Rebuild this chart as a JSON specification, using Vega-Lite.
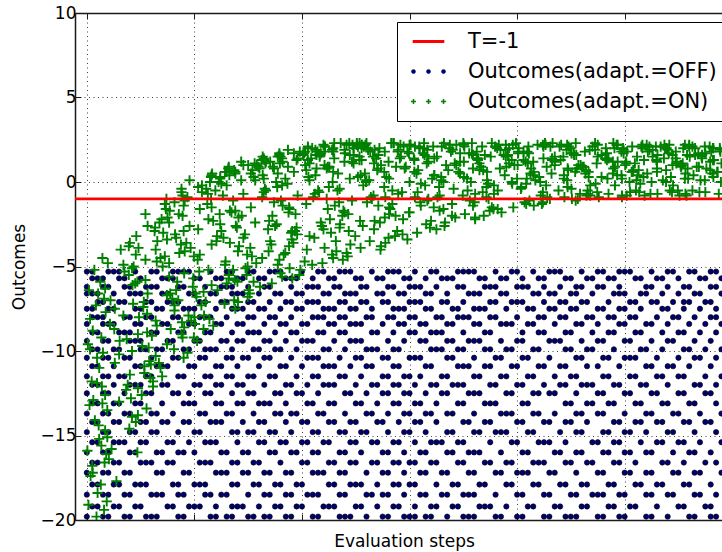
{
"$schema":"https://vega.github.io/schema/vega-lite/v6.json",
"width":647,"height":507,
"autosize":{"type":"none"},
"padding":{"left":75,"top":13,"right":0,"bottom":32},
"background":"white",
"config":{
"view":{"stroke":null},
"font":"DejaVu Sans",
"axis":{"domainColor":"#1a1a1a","domainWidth":1.5,"tickColor":"#1a1a1a","tickSize":-6,"tickWidth":1,"gridColor":"#000000","gridDash":[1,3.5],"gridOpacity":0.75,"gridWidth":1,"labelFont":"DejaVu Sans","labelFontSize":17,"labelColor":"#000000","titleFont":"DejaVu Sans","titleFontSize":17,"titleFontWeight":"normal","titleColor":"#000000"}
},
"datasets":{
"off":[
{"x":0,"y":-5.3},{"x":1,"y":-5.3},{"x":4,"y":-5.3},{"x":5,"y":-5.3},{"x":6,"y":-5.3},{"x":9,"y":-5.3},{"x":12,"y":-5.3},{"x":13,"y":-5.3},{"x":16,"y":-5.3},{"x":17,"y":-5.3},{"x":18,"y":-5.3},{"x":19,"y":-5.3},{"x":23,"y":-5.3},{"x":26,"y":-5.3},{"x":27,"y":-5.3},{"x":30,"y":-5.3},{"x":31,"y":-5.3},{"x":34,"y":-5.3},{"x":35,"y":-5.3},{"x":36,"y":-5.3},{"x":40,"y":-5.3},{"x":43,"y":-5.3},{"x":44,"y":-5.3},{"x":47,"y":-5.3},{"x":48,"y":-5.3},{"x":49,"y":-5.3},{"x":53,"y":-5.3},{"x":56,"y":-5.3},{"x":57,"y":-5.3},{"x":58,"y":-5.3},{"x":61,"y":-5.3},{"x":64,"y":-5.3},{"x":65,"y":-5.3},{"x":69,"y":-5.3},{"x":70,"y":-5.3},{"x":71,"y":-5.3},{"x":72,"y":-5.3},{"x":76,"y":-5.3},{"x":79,"y":-5.3},{"x":80,"y":-5.3},{"x":83,"y":-5.3},{"x":86,"y":-5.3},{"x":87,"y":-5.3},{"x":88,"y":-5.3},{"x":92,"y":-5.3},{"x":95,"y":-5.3},{"x":96,"y":-5.3},{"x":99,"y":-5.3},{"x":100,"y":-5.3},{"x":101,"y":-5.3},{"x":105,"y":-5.3},{"x":108,"y":-5.3},{"x":109,"y":-5.3},{"x":112,"y":-5.3},{"x":113,"y":-5.3},{"x":116,"y":-5.3},{"x":117,"y":-5.3},
{"x":1,"y":-5.7},{"x":2,"y":-5.7},{"x":3,"y":-5.7},{"x":6,"y":-5.7},{"x":7,"y":-5.7},{"x":10,"y":-5.7},{"x":14,"y":-5.7},{"x":15,"y":-5.7},{"x":16,"y":-5.7},{"x":20,"y":-5.7},{"x":21,"y":-5.7},{"x":24,"y":-5.7},{"x":25,"y":-5.7},{"x":28,"y":-5.7},{"x":29,"y":-5.7},{"x":32,"y":-5.7},{"x":33,"y":-5.7},{"x":37,"y":-5.7},{"x":38,"y":-5.7},{"x":39,"y":-5.7},{"x":42,"y":-5.7},{"x":45,"y":-5.7},{"x":46,"y":-5.7},{"x":50,"y":-5.7},{"x":51,"y":-5.7},{"x":54,"y":-5.7},{"x":55,"y":-5.7},{"x":59,"y":-5.7},{"x":60,"y":-5.7},{"x":63,"y":-5.7},{"x":66,"y":-5.7},{"x":67,"y":-5.7},{"x":68,"y":-5.7},{"x":73,"y":-5.7},{"x":74,"y":-5.7},{"x":77,"y":-5.7},{"x":78,"y":-5.7},{"x":81,"y":-5.7},{"x":84,"y":-5.7},{"x":85,"y":-5.7},{"x":89,"y":-5.7},{"x":90,"y":-5.7},{"x":93,"y":-5.7},{"x":94,"y":-5.7},{"x":97,"y":-5.7},{"x":98,"y":-5.7},{"x":102,"y":-5.7},{"x":103,"y":-5.7},{"x":106,"y":-5.7},{"x":107,"y":-5.7},{"x":110,"y":-5.7},{"x":114,"y":-5.7},{"x":115,"y":-5.7},{"x":118,"y":-5.7},
{"x":0,"y":-6.2},{"x":3,"y":-6.2},{"x":4,"y":-6.2},{"x":7,"y":-6.2},{"x":8,"y":-6.2},{"x":11,"y":-6.2},{"x":12,"y":-6.2},{"x":13,"y":-6.2},{"x":17,"y":-6.2},{"x":18,"y":-6.2},{"x":22,"y":-6.2},{"x":25,"y":-6.2},{"x":26,"y":-6.2},{"x":27,"y":-6.2},{"x":30,"y":-6.2},{"x":33,"y":-6.2},{"x":34,"y":-6.2},{"x":38,"y":-6.2},{"x":41,"y":-6.2},{"x":42,"y":-6.2},{"x":43,"y":-6.2},{"x":46,"y":-6.2},{"x":47,"y":-6.2},{"x":51,"y":-6.2},{"x":52,"y":-6.2},{"x":56,"y":-6.2},{"x":57,"y":-6.2},{"x":60,"y":-6.2},{"x":61,"y":-6.2},{"x":62,"y":-6.2},{"x":65,"y":-6.2},{"x":69,"y":-6.2},{"x":70,"y":-6.2},{"x":74,"y":-6.2},{"x":75,"y":-6.2},{"x":76,"y":-6.2},{"x":80,"y":-6.2},{"x":81,"y":-6.2},{"x":82,"y":-6.2},{"x":85,"y":-6.2},{"x":88,"y":-6.2},{"x":91,"y":-6.2},{"x":92,"y":-6.2},{"x":95,"y":-6.2},{"x":96,"y":-6.2},{"x":99,"y":-6.2},{"x":104,"y":-6.2},{"x":105,"y":-6.2},{"x":108,"y":-6.2},{"x":111,"y":-6.2},{"x":112,"y":-6.2},{"x":116,"y":-6.2},{"x":117,"y":-6.2},
{"x":0,"y":-6.6},{"x":1,"y":-6.6},{"x":2,"y":-6.6},{"x":5,"y":-6.6},{"x":8,"y":-6.6},{"x":9,"y":-6.6},{"x":10,"y":-6.6},{"x":14,"y":-6.6},{"x":15,"y":-6.6},{"x":19,"y":-6.6},{"x":20,"y":-6.6},{"x":23,"y":-6.6},{"x":24,"y":-6.6},{"x":27,"y":-6.6},{"x":28,"y":-6.6},{"x":29,"y":-6.6},{"x":32,"y":-6.6},{"x":35,"y":-6.6},{"x":36,"y":-6.6},{"x":39,"y":-6.6},{"x":40,"y":-6.6},{"x":44,"y":-6.6},{"x":45,"y":-6.6},{"x":48,"y":-6.6},{"x":49,"y":-6.6},{"x":50,"y":-6.6},{"x":54,"y":-6.6},{"x":55,"y":-6.6},{"x":58,"y":-6.6},{"x":59,"y":-6.6},{"x":63,"y":-6.6},{"x":64,"y":-6.6},{"x":67,"y":-6.6},{"x":71,"y":-6.6},{"x":72,"y":-6.6},{"x":73,"y":-6.6},{"x":77,"y":-6.6},{"x":78,"y":-6.6},{"x":83,"y":-6.6},{"x":84,"y":-6.6},{"x":86,"y":-6.6},{"x":87,"y":-6.6},{"x":90,"y":-6.6},{"x":91,"y":-6.6},{"x":94,"y":-6.6},{"x":98,"y":-6.6},{"x":99,"y":-6.6},{"x":100,"y":-6.6},{"x":103,"y":-6.6},{"x":104,"y":-6.6},{"x":107,"y":-6.6},{"x":110,"y":-6.6},{"x":113,"y":-6.6},{"x":114,"y":-6.6},{"x":118,"y":-6.6},
{"x":2,"y":-7.1},{"x":3,"y":-7.1},{"x":6,"y":-7.1},{"x":7,"y":-7.1},{"x":11,"y":-7.1},{"x":12,"y":-7.1},{"x":15,"y":-7.1},{"x":16,"y":-7.1},{"x":17,"y":-7.1},{"x":21,"y":-7.1},{"x":22,"y":-7.1},{"x":25,"y":-7.1},{"x":26,"y":-7.1},{"x":30,"y":-7.1},{"x":31,"y":-7.1},{"x":34,"y":-7.1},{"x":37,"y":-7.1},{"x":38,"y":-7.1},{"x":41,"y":-7.1},{"x":42,"y":-7.1},{"x":43,"y":-7.1},{"x":47,"y":-7.1},{"x":48,"y":-7.1},{"x":51,"y":-7.1},{"x":52,"y":-7.1},{"x":55,"y":-7.1},{"x":56,"y":-7.1},{"x":60,"y":-7.1},{"x":61,"y":-7.1},{"x":62,"y":-7.1},{"x":66,"y":-7.1},{"x":67,"y":-7.1},{"x":70,"y":-7.1},{"x":75,"y":-7.1},{"x":76,"y":-7.1},{"x":79,"y":-7.1},{"x":80,"y":-7.1},{"x":81,"y":-7.1},{"x":85,"y":-7.1},{"x":88,"y":-7.1},{"x":89,"y":-7.1},{"x":92,"y":-7.1},{"x":93,"y":-7.1},{"x":97,"y":-7.1},{"x":101,"y":-7.1},{"x":102,"y":-7.1},{"x":105,"y":-7.1},{"x":106,"y":-7.1},{"x":109,"y":-7.1},{"x":111,"y":-7.1},{"x":112,"y":-7.1},{"x":115,"y":-7.1},{"x":116,"y":-7.1},
{"x":0,"y":-7.5},{"x":1,"y":-7.5},{"x":4,"y":-7.5},{"x":5,"y":-7.5},{"x":9,"y":-7.5},{"x":10,"y":-7.5},{"x":13,"y":-7.5},{"x":14,"y":-7.5},{"x":18,"y":-7.5},{"x":19,"y":-7.5},{"x":20,"y":-7.5},{"x":24,"y":-7.5},{"x":27,"y":-7.5},{"x":28,"y":-7.5},{"x":29,"y":-7.5},{"x":32,"y":-7.5},{"x":33,"y":-7.5},{"x":36,"y":-7.5},{"x":39,"y":-7.5},{"x":40,"y":-7.5},{"x":44,"y":-7.5},{"x":45,"y":-7.5},{"x":46,"y":-7.5},{"x":49,"y":-7.5},{"x":50,"y":-7.5},{"x":53,"y":-7.5},{"x":57,"y":-7.5},{"x":58,"y":-7.5},{"x":59,"y":-7.5},{"x":63,"y":-7.5},{"x":64,"y":-7.5},{"x":68,"y":-7.5},{"x":69,"y":-7.5},{"x":72,"y":-7.5},{"x":73,"y":-7.5},{"x":74,"y":-7.5},{"x":78,"y":-7.5},{"x":82,"y":-7.5},{"x":83,"y":-7.5},{"x":86,"y":-7.5},{"x":87,"y":-7.5},{"x":90,"y":-7.5},{"x":91,"y":-7.5},{"x":95,"y":-7.5},{"x":96,"y":-7.5},{"x":99,"y":-7.5},{"x":100,"y":-7.5},{"x":103,"y":-7.5},{"x":107,"y":-7.5},{"x":108,"y":-7.5},{"x":111,"y":-7.5},{"x":114,"y":-7.5},{"x":117,"y":-7.5},
{"x":1,"y":-8},{"x":2,"y":-8},{"x":3,"y":-8},{"x":7,"y":-8},{"x":8,"y":-8},{"x":11,"y":-8},{"x":12,"y":-8},{"x":16,"y":-8},{"x":17,"y":-8},{"x":21,"y":-8},{"x":22,"y":-8},{"x":23,"y":-8},{"x":26,"y":-8},{"x":30,"y":-8},{"x":31,"y":-8},{"x":34,"y":-8},{"x":35,"y":-8},{"x":38,"y":-8},{"x":42,"y":-8},{"x":43,"y":-8},{"x":44,"y":-8},{"x":47,"y":-8},{"x":48,"y":-8},{"x":52,"y":-8},{"x":53,"y":-8},{"x":56,"y":-8},{"x":57,"y":-8},{"x":60,"y":-8},{"x":61,"y":-8},{"x":65,"y":-8},{"x":66,"y":-8},{"x":69,"y":-8},{"x":70,"y":-8},{"x":71,"y":-8},{"x":75,"y":-8},{"x":76,"y":-8},{"x":80,"y":-8},{"x":84,"y":-8},{"x":85,"y":-8},{"x":88,"y":-8},{"x":89,"y":-8},{"x":93,"y":-8},{"x":94,"y":-8},{"x":97,"y":-8},{"x":98,"y":-8},{"x":101,"y":-8},{"x":102,"y":-8},{"x":106,"y":-8},{"x":109,"y":-8},{"x":110,"y":-8},{"x":113,"y":-8},{"x":116,"y":-8},{"x":117,"y":-8},
{"x":0,"y":-8.4},{"x":3,"y":-8.4},{"x":4,"y":-8.4},{"x":5,"y":-8.4},{"x":9,"y":-8.4},{"x":10,"y":-8.4},{"x":14,"y":-8.4},{"x":15,"y":-8.4},{"x":19,"y":-8.4},{"x":20,"y":-8.4},{"x":24,"y":-8.4},{"x":25,"y":-8.4},{"x":28,"y":-8.4},{"x":29,"y":-8.4},{"x":33,"y":-8.4},{"x":36,"y":-8.4},{"x":37,"y":-8.4},{"x":40,"y":-8.4},{"x":41,"y":-8.4},{"x":45,"y":-8.4},{"x":46,"y":-8.4},{"x":49,"y":-8.4},{"x":50,"y":-8.4},{"x":51,"y":-8.4},{"x":55,"y":-8.4},{"x":58,"y":-8.4},{"x":59,"y":-8.4},{"x":62,"y":-8.4},{"x":63,"y":-8.4},{"x":67,"y":-8.4},{"x":68,"y":-8.4},{"x":72,"y":-8.4},{"x":73,"y":-8.4},{"x":77,"y":-8.4},{"x":78,"y":-8.4},{"x":79,"y":-8.4},{"x":82,"y":-8.4},{"x":83,"y":-8.4},{"x":87,"y":-8.4},{"x":91,"y":-8.4},{"x":92,"y":-8.4},{"x":95,"y":-8.4},{"x":99,"y":-8.4},{"x":100,"y":-8.4},{"x":104,"y":-8.4},{"x":105,"y":-8.4},{"x":108,"y":-8.4},{"x":112,"y":-8.4},{"x":115,"y":-8.4},{"x":118,"y":-8.4},
{"x":1,"y":-8.9},{"x":2,"y":-8.9},{"x":6,"y":-8.9},{"x":7,"y":-8.9},{"x":8,"y":-8.9},{"x":12,"y":-8.9},{"x":13,"y":-8.9},{"x":17,"y":-8.9},{"x":18,"y":-8.9},{"x":22,"y":-8.9},{"x":23,"y":-8.9},{"x":27,"y":-8.9},{"x":30,"y":-8.9},{"x":31,"y":-8.9},{"x":32,"y":-8.9},{"x":35,"y":-8.9},{"x":38,"y":-8.9},{"x":39,"y":-8.9},{"x":43,"y":-8.9},{"x":44,"y":-8.9},{"x":47,"y":-8.9},{"x":48,"y":-8.9},{"x":53,"y":-8.9},{"x":54,"y":-8.9},{"x":57,"y":-8.9},{"x":60,"y":-8.9},{"x":61,"y":-8.9},{"x":64,"y":-8.9},{"x":65,"y":-8.9},{"x":66,"y":-8.9},{"x":70,"y":-8.9},{"x":74,"y":-8.9},{"x":75,"y":-8.9},{"x":81,"y":-8.9},{"x":84,"y":-8.9},{"x":85,"y":-8.9},{"x":89,"y":-8.9},{"x":90,"y":-8.9},{"x":94,"y":-8.9},{"x":97,"y":-8.9},{"x":98,"y":-8.9},{"x":102,"y":-8.9},{"x":103,"y":-8.9},{"x":107,"y":-8.9},{"x":110,"y":-8.9},{"x":111,"y":-8.9},{"x":114,"y":-8.9},{"x":117,"y":-8.9},
{"x":0,"y":-9.4},{"x":3,"y":-9.4},{"x":4,"y":-9.4},{"x":8,"y":-9.4},{"x":9,"y":-9.4},{"x":10,"y":-9.4},{"x":15,"y":-9.4},{"x":16,"y":-9.4},{"x":20,"y":-9.4},{"x":21,"y":-9.4},{"x":25,"y":-9.4},{"x":26,"y":-9.4},{"x":28,"y":-9.4},{"x":29,"y":-9.4},{"x":33,"y":-9.4},{"x":34,"y":-9.4},{"x":37,"y":-9.4},{"x":40,"y":-9.4},{"x":41,"y":-9.4},{"x":42,"y":-9.4},{"x":46,"y":-9.4},{"x":49,"y":-9.4},{"x":50,"y":-9.4},{"x":51,"y":-9.4},{"x":56,"y":-9.4},{"x":59,"y":-9.4},{"x":62,"y":-9.4},{"x":63,"y":-9.4},{"x":67,"y":-9.4},{"x":68,"y":-9.4},{"x":71,"y":-9.4},{"x":72,"y":-9.4},{"x":73,"y":-9.4},{"x":77,"y":-9.4},{"x":80,"y":-9.4},{"x":81,"y":-9.4},{"x":86,"y":-9.4},{"x":87,"y":-9.4},{"x":88,"y":-9.4},{"x":92,"y":-9.4},{"x":95,"y":-9.4},{"x":96,"y":-9.4},{"x":100,"y":-9.4},{"x":101,"y":-9.4},{"x":105,"y":-9.4},{"x":108,"y":-9.4},{"x":109,"y":-9.4},{"x":113,"y":-9.4},{"x":116,"y":-9.4},
{"x":1,"y":-9.9},{"x":2,"y":-9.9},{"x":5,"y":-9.9},{"x":6,"y":-9.9},{"x":10,"y":-9.9},{"x":11,"y":-9.9},{"x":13,"y":-9.9},{"x":14,"y":-9.9},{"x":18,"y":-9.9},{"x":19,"y":-9.9},{"x":22,"y":-9.9},{"x":23,"y":-9.9},{"x":24,"y":-9.9},{"x":27,"y":-9.9},{"x":31,"y":-9.9},{"x":32,"y":-9.9},{"x":35,"y":-9.9},{"x":36,"y":-9.9},{"x":39,"y":-9.9},{"x":44,"y":-9.9},{"x":45,"y":-9.9},{"x":48,"y":-9.9},{"x":52,"y":-9.9},{"x":53,"y":-9.9},{"x":54,"y":-9.9},{"x":57,"y":-9.9},{"x":58,"y":-9.9},{"x":64,"y":-9.9},{"x":65,"y":-9.9},{"x":66,"y":-9.9},{"x":69,"y":-9.9},{"x":70,"y":-9.9},{"x":74,"y":-9.9},{"x":75,"y":-9.9},{"x":78,"y":-9.9},{"x":79,"y":-9.9},{"x":83,"y":-9.9},{"x":84,"y":-9.9},{"x":89,"y":-9.9},{"x":90,"y":-9.9},{"x":93,"y":-9.9},{"x":94,"y":-9.9},{"x":98,"y":-9.9},{"x":103,"y":-9.9},{"x":104,"y":-9.9},{"x":107,"y":-9.9},{"x":111,"y":-9.9},{"x":112,"y":-9.9},{"x":115,"y":-9.9},{"x":118,"y":-9.9},
{"x":0,"y":-10.4},{"x":3,"y":-10.4},{"x":4,"y":-10.4},{"x":7,"y":-10.4},{"x":8,"y":-10.4},{"x":12,"y":-10.4},{"x":16,"y":-10.4},{"x":17,"y":-10.4},{"x":21,"y":-10.4},{"x":22,"y":-10.4},{"x":26,"y":-10.4},{"x":27,"y":-10.4},{"x":29,"y":-10.4},{"x":30,"y":-10.4},{"x":33,"y":-10.4},{"x":34,"y":-10.4},{"x":38,"y":-10.4},{"x":41,"y":-10.4},{"x":42,"y":-10.4},{"x":43,"y":-10.4},{"x":47,"y":-10.4},{"x":50,"y":-10.4},{"x":51,"y":-10.4},{"x":55,"y":-10.4},{"x":56,"y":-10.4},{"x":60,"y":-10.4},{"x":61,"y":-10.4},{"x":62,"y":-10.4},{"x":67,"y":-10.4},{"x":68,"y":-10.4},{"x":72,"y":-10.4},{"x":76,"y":-10.4},{"x":77,"y":-10.4},{"x":81,"y":-10.4},{"x":82,"y":-10.4},{"x":86,"y":-10.4},{"x":91,"y":-10.4},{"x":92,"y":-10.4},{"x":96,"y":-10.4},{"x":97,"y":-10.4},{"x":100,"y":-10.4},{"x":101,"y":-10.4},{"x":102,"y":-10.4},{"x":106,"y":-10.4},{"x":110,"y":-10.4},{"x":113,"y":-10.4},{"x":114,"y":-10.4},{"x":117,"y":-10.4},
{"x":1,"y":-10.9},{"x":2,"y":-10.9},{"x":5,"y":-10.9},{"x":9,"y":-10.9},{"x":10,"y":-10.9},{"x":13,"y":-10.9},{"x":14,"y":-10.9},{"x":15,"y":-10.9},{"x":19,"y":-10.9},{"x":20,"y":-10.9},{"x":24,"y":-10.9},{"x":25,"y":-10.9},{"x":28,"y":-10.9},{"x":32,"y":-10.9},{"x":36,"y":-10.9},{"x":37,"y":-10.9},{"x":40,"y":-10.9},{"x":44,"y":-10.9},{"x":45,"y":-10.9},{"x":46,"y":-10.9},{"x":49,"y":-10.9},{"x":52,"y":-10.9},{"x":53,"y":-10.9},{"x":57,"y":-10.9},{"x":58,"y":-10.9},{"x":63,"y":-10.9},{"x":64,"y":-10.9},{"x":69,"y":-10.9},{"x":70,"y":-10.9},{"x":71,"y":-10.9},{"x":74,"y":-10.9},{"x":75,"y":-10.9},{"x":79,"y":-10.9},{"x":80,"y":-10.9},{"x":84,"y":-10.9},{"x":85,"y":-10.9},{"x":88,"y":-10.9},{"x":89,"y":-10.9},{"x":93,"y":-10.9},{"x":95,"y":-10.9},{"x":99,"y":-10.9},{"x":104,"y":-10.9},{"x":105,"y":-10.9},{"x":108,"y":-10.9},{"x":109,"y":-10.9},{"x":112,"y":-10.9},{"x":116,"y":-10.9},
{"x":0,"y":-11.5},{"x":3,"y":-11.5},{"x":4,"y":-11.5},{"x":6,"y":-11.5},{"x":7,"y":-11.5},{"x":11,"y":-11.5},{"x":12,"y":-11.5},{"x":17,"y":-11.5},{"x":18,"y":-11.5},{"x":22,"y":-11.5},{"x":23,"y":-11.5},{"x":26,"y":-11.5},{"x":27,"y":-11.5},{"x":30,"y":-11.5},{"x":31,"y":-11.5},{"x":34,"y":-11.5},{"x":35,"y":-11.5},{"x":39,"y":-11.5},{"x":42,"y":-11.5},{"x":43,"y":-11.5},{"x":47,"y":-11.5},{"x":48,"y":-11.5},{"x":51,"y":-11.5},{"x":55,"y":-11.5},{"x":56,"y":-11.5},{"x":59,"y":-11.5},{"x":60,"y":-11.5},{"x":62,"y":-11.5},{"x":66,"y":-11.5},{"x":67,"y":-11.5},{"x":72,"y":-11.5},{"x":73,"y":-11.5},{"x":77,"y":-11.5},{"x":78,"y":-11.5},{"x":82,"y":-11.5},{"x":83,"y":-11.5},{"x":87,"y":-11.5},{"x":90,"y":-11.5},{"x":91,"y":-11.5},{"x":96,"y":-11.5},{"x":97,"y":-11.5},{"x":101,"y":-11.5},{"x":102,"y":-11.5},{"x":106,"y":-11.5},{"x":107,"y":-11.5},{"x":110,"y":-11.5},{"x":111,"y":-11.5},{"x":115,"y":-11.5},{"x":118,"y":-11.5},
{"x":1,"y":-12},{"x":2,"y":-12},{"x":5,"y":-12},{"x":8,"y":-12},{"x":9,"y":-12},{"x":10,"y":-12},{"x":14,"y":-12},{"x":15,"y":-12},{"x":20,"y":-12},{"x":21,"y":-12},{"x":24,"y":-12},{"x":25,"y":-12},{"x":28,"y":-12},{"x":29,"y":-12},{"x":33,"y":-12},{"x":37,"y":-12},{"x":38,"y":-12},{"x":41,"y":-12},{"x":44,"y":-12},{"x":45,"y":-12},{"x":46,"y":-12},{"x":50,"y":-12},{"x":53,"y":-12},{"x":54,"y":-12},{"x":57,"y":-12},{"x":58,"y":-12},{"x":61,"y":-12},{"x":64,"y":-12},{"x":65,"y":-12},{"x":68,"y":-12},{"x":69,"y":-12},{"x":70,"y":-12},{"x":75,"y":-12},{"x":76,"y":-12},{"x":80,"y":-12},{"x":81,"y":-12},{"x":85,"y":-12},{"x":88,"y":-12},{"x":89,"y":-12},{"x":92,"y":-12},{"x":93,"y":-12},{"x":94,"y":-12},{"x":98,"y":-12},{"x":99,"y":-12},{"x":103,"y":-12},{"x":104,"y":-12},{"x":108,"y":-12},{"x":113,"y":-12},{"x":114,"y":-12},{"x":117,"y":-12},
{"x":0,"y":-12.5},{"x":3,"y":-12.5},{"x":4,"y":-12.5},{"x":7,"y":-12.5},{"x":11,"y":-12.5},{"x":12,"y":-12.5},{"x":16,"y":-12.5},{"x":17,"y":-12.5},{"x":19,"y":-12.5},{"x":22,"y":-12.5},{"x":23,"y":-12.5},{"x":27,"y":-12.5},{"x":30,"y":-12.5},{"x":31,"y":-12.5},{"x":35,"y":-12.5},{"x":36,"y":-12.5},{"x":39,"y":-12.5},{"x":40,"y":-12.5},{"x":43,"y":-12.5},{"x":48,"y":-12.5},{"x":49,"y":-12.5},{"x":52,"y":-12.5},{"x":55,"y":-12.5},{"x":56,"y":-12.5},{"x":59,"y":-12.5},{"x":60,"y":-12.5},{"x":63,"y":-12.5},{"x":66,"y":-12.5},{"x":67,"y":-12.5},{"x":71,"y":-12.5},{"x":72,"y":-12.5},{"x":73,"y":-12.5},{"x":78,"y":-12.5},{"x":79,"y":-12.5},{"x":83,"y":-12.5},{"x":84,"y":-12.5},{"x":86,"y":-12.5},{"x":87,"y":-12.5},{"x":91,"y":-12.5},{"x":95,"y":-12.5},{"x":96,"y":-12.5},{"x":100,"y":-12.5},{"x":101,"y":-12.5},{"x":105,"y":-12.5},{"x":106,"y":-12.5},{"x":110,"y":-12.5},{"x":111,"y":-12.5},{"x":115,"y":-12.5},{"x":116,"y":-12.5},
{"x":1,"y":-13.1},{"x":2,"y":-13.1},{"x":5,"y":-13.1},{"x":6,"y":-13.1},{"x":9,"y":-13.1},{"x":10,"y":-13.1},{"x":14,"y":-13.1},{"x":18,"y":-13.1},{"x":19,"y":-13.1},{"x":20,"y":-13.1},{"x":24,"y":-13.1},{"x":25,"y":-13.1},{"x":28,"y":-13.1},{"x":29,"y":-13.1},{"x":32,"y":-13.1},{"x":33,"y":-13.1},{"x":34,"y":-13.1},{"x":37,"y":-13.1},{"x":41,"y":-13.1},{"x":42,"y":-13.1},{"x":45,"y":-13.1},{"x":46,"y":-13.1},{"x":50,"y":-13.1},{"x":51,"y":-13.1},{"x":54,"y":-13.1},{"x":57,"y":-13.1},{"x":58,"y":-13.1},{"x":61,"y":-13.1},{"x":62,"y":-13.1},{"x":65,"y":-13.1},{"x":69,"y":-13.1},{"x":70,"y":-13.1},{"x":74,"y":-13.1},{"x":75,"y":-13.1},{"x":76,"y":-13.1},{"x":81,"y":-13.1},{"x":82,"y":-13.1},{"x":89,"y":-13.1},{"x":90,"y":-13.1},{"x":93,"y":-13.1},{"x":94,"y":-13.1},{"x":97,"y":-13.1},{"x":98,"y":-13.1},{"x":102,"y":-13.1},{"x":103,"y":-13.1},{"x":107,"y":-13.1},{"x":108,"y":-13.1},{"x":112,"y":-13.1},{"x":113,"y":-13.1},{"x":117,"y":-13.1},
{"x":0,"y":-13.7},{"x":3,"y":-13.7},{"x":4,"y":-13.7},{"x":7,"y":-13.7},{"x":8,"y":-13.7},{"x":12,"y":-13.7},{"x":13,"y":-13.7},{"x":16,"y":-13.7},{"x":21,"y":-13.7},{"x":22,"y":-13.7},{"x":26,"y":-13.7},{"x":27,"y":-13.7},{"x":31,"y":-13.7},{"x":35,"y":-13.7},{"x":36,"y":-13.7},{"x":38,"y":-13.7},{"x":39,"y":-13.7},{"x":43,"y":-13.7},{"x":44,"y":-13.7},{"x":48,"y":-13.7},{"x":52,"y":-13.7},{"x":53,"y":-13.7},{"x":56,"y":-13.7},{"x":59,"y":-13.7},{"x":60,"y":-13.7},{"x":63,"y":-13.7},{"x":64,"y":-13.7},{"x":67,"y":-13.7},{"x":68,"y":-13.7},{"x":72,"y":-13.7},{"x":77,"y":-13.7},{"x":78,"y":-13.7},{"x":79,"y":-13.7},{"x":83,"y":-13.7},{"x":84,"y":-13.7},{"x":87,"y":-13.7},{"x":91,"y":-13.7},{"x":92,"y":-13.7},{"x":95,"y":-13.7},{"x":96,"y":-13.7},{"x":100,"y":-13.7},{"x":104,"y":-13.7},{"x":105,"y":-13.7},{"x":109,"y":-13.7},{"x":110,"y":-13.7},{"x":114,"y":-13.7},{"x":118,"y":-13.7},
{"x":1,"y":-14.2},{"x":2,"y":-14.2},{"x":5,"y":-14.2},{"x":6,"y":-14.2},{"x":10,"y":-14.2},{"x":11,"y":-14.2},{"x":14,"y":-14.2},{"x":15,"y":-14.2},{"x":18,"y":-14.2},{"x":19,"y":-14.2},{"x":23,"y":-14.2},{"x":24,"y":-14.2},{"x":25,"y":-14.2},{"x":29,"y":-14.2},{"x":32,"y":-14.2},{"x":33,"y":-14.2},{"x":37,"y":-14.2},{"x":40,"y":-14.2},{"x":41,"y":-14.2},{"x":45,"y":-14.2},{"x":46,"y":-14.2},{"x":49,"y":-14.2},{"x":50,"y":-14.2},{"x":54,"y":-14.2},{"x":55,"y":-14.2},{"x":58,"y":-14.2},{"x":61,"y":-14.2},{"x":62,"y":-14.2},{"x":65,"y":-14.2},{"x":70,"y":-14.2},{"x":71,"y":-14.2},{"x":74,"y":-14.2},{"x":75,"y":-14.2},{"x":80,"y":-14.2},{"x":81,"y":-14.2},{"x":85,"y":-14.2},{"x":86,"y":-14.2},{"x":89,"y":-14.2},{"x":90,"y":-14.2},{"x":93,"y":-14.2},{"x":98,"y":-14.2},{"x":99,"y":-14.2},{"x":102,"y":-14.2},{"x":103,"y":-14.2},{"x":106,"y":-14.2},{"x":107,"y":-14.2},{"x":111,"y":-14.2},{"x":112,"y":-14.2},{"x":115,"y":-14.2},{"x":116,"y":-14.2},
{"x":0,"y":-14.8},{"x":3,"y":-14.8},{"x":4,"y":-14.8},{"x":8,"y":-14.8},{"x":9,"y":-14.8},{"x":12,"y":-14.8},{"x":13,"y":-14.8},{"x":17,"y":-14.8},{"x":20,"y":-14.8},{"x":21,"y":-14.8},{"x":27,"y":-14.8},{"x":28,"y":-14.8},{"x":30,"y":-14.8},{"x":31,"y":-14.8},{"x":34,"y":-14.8},{"x":35,"y":-14.8},{"x":38,"y":-14.8},{"x":42,"y":-14.8},{"x":43,"y":-14.8},{"x":47,"y":-14.8},{"x":48,"y":-14.8},{"x":51,"y":-14.8},{"x":52,"y":-14.8},{"x":56,"y":-14.8},{"x":59,"y":-14.8},{"x":60,"y":-14.8},{"x":63,"y":-14.8},{"x":67,"y":-14.8},{"x":68,"y":-14.8},{"x":72,"y":-14.8},{"x":73,"y":-14.8},{"x":76,"y":-14.8},{"x":77,"y":-14.8},{"x":78,"y":-14.8},{"x":82,"y":-14.8},{"x":83,"y":-14.8},{"x":88,"y":-14.8},{"x":91,"y":-14.8},{"x":92,"y":-14.8},{"x":96,"y":-14.8},{"x":97,"y":-14.8},{"x":100,"y":-14.8},{"x":101,"y":-14.8},{"x":104,"y":-14.8},{"x":108,"y":-14.8},{"x":109,"y":-14.8},{"x":113,"y":-14.8},{"x":117,"y":-14.8},
{"x":1,"y":-15.4},{"x":2,"y":-15.4},{"x":5,"y":-15.4},{"x":6,"y":-15.4},{"x":7,"y":-15.4},{"x":10,"y":-15.4},{"x":11,"y":-15.4},{"x":15,"y":-15.4},{"x":16,"y":-15.4},{"x":19,"y":-15.4},{"x":22,"y":-15.4},{"x":23,"y":-15.4},{"x":24,"y":-15.4},{"x":28,"y":-15.4},{"x":32,"y":-15.4},{"x":33,"y":-15.4},{"x":36,"y":-15.4},{"x":37,"y":-15.4},{"x":40,"y":-15.4},{"x":41,"y":-15.4},{"x":44,"y":-15.4},{"x":45,"y":-15.4},{"x":49,"y":-15.4},{"x":50,"y":-15.4},{"x":53,"y":-15.4},{"x":54,"y":-15.4},{"x":57,"y":-15.4},{"x":58,"y":-15.4},{"x":61,"y":-15.4},{"x":64,"y":-15.4},{"x":65,"y":-15.4},{"x":66,"y":-15.4},{"x":69,"y":-15.4},{"x":70,"y":-15.4},{"x":75,"y":-15.4},{"x":79,"y":-15.4},{"x":80,"y":-15.4},{"x":84,"y":-15.4},{"x":85,"y":-15.4},{"x":86,"y":-15.4},{"x":89,"y":-15.4},{"x":94,"y":-15.4},{"x":95,"y":-15.4},{"x":98,"y":-15.4},{"x":99,"y":-15.4},{"x":103,"y":-15.4},{"x":106,"y":-15.4},{"x":107,"y":-15.4},{"x":110,"y":-15.4},{"x":111,"y":-15.4},{"x":114,"y":-15.4},{"x":118,"y":-15.4},
{"x":0,"y":-16},{"x":3,"y":-16},{"x":4,"y":-16},{"x":8,"y":-16},{"x":9,"y":-16},{"x":13,"y":-16},{"x":14,"y":-16},{"x":17,"y":-16},{"x":18,"y":-16},{"x":20,"y":-16},{"x":25,"y":-16},{"x":26,"y":-16},{"x":29,"y":-16},{"x":30,"y":-16},{"x":34,"y":-16},{"x":35,"y":-16},{"x":38,"y":-16},{"x":39,"y":-16},{"x":42,"y":-16},{"x":43,"y":-16},{"x":47,"y":-16},{"x":48,"y":-16},{"x":51,"y":-16},{"x":55,"y":-16},{"x":56,"y":-16},{"x":59,"y":-16},{"x":62,"y":-16},{"x":63,"y":-16},{"x":67,"y":-16},{"x":68,"y":-16},{"x":71,"y":-16},{"x":72,"y":-16},{"x":73,"y":-16},{"x":77,"y":-16},{"x":81,"y":-16},{"x":82,"y":-16},{"x":87,"y":-16},{"x":88,"y":-16},{"x":91,"y":-16},{"x":92,"y":-16},{"x":96,"y":-16},{"x":97,"y":-16},{"x":100,"y":-16},{"x":101,"y":-16},{"x":104,"y":-16},{"x":105,"y":-16},{"x":109,"y":-16},{"x":112,"y":-16},{"x":113,"y":-16},{"x":116,"y":-16},
{"x":1,"y":-16.6},{"x":2,"y":-16.6},{"x":5,"y":-16.6},{"x":6,"y":-16.6},{"x":10,"y":-16.6},{"x":11,"y":-16.6},{"x":12,"y":-16.6},{"x":15,"y":-16.6},{"x":16,"y":-16.6},{"x":21,"y":-16.6},{"x":22,"y":-16.6},{"x":23,"y":-16.6},{"x":27,"y":-16.6},{"x":28,"y":-16.6},{"x":31,"y":-16.6},{"x":32,"y":-16.6},{"x":36,"y":-16.6},{"x":40,"y":-16.6},{"x":41,"y":-16.6},{"x":45,"y":-16.6},{"x":46,"y":-16.6},{"x":49,"y":-16.6},{"x":50,"y":-16.6},{"x":53,"y":-16.6},{"x":54,"y":-16.6},{"x":57,"y":-16.6},{"x":58,"y":-16.6},{"x":60,"y":-16.6},{"x":61,"y":-16.6},{"x":64,"y":-16.6},{"x":65,"y":-16.6},{"x":69,"y":-16.6},{"x":70,"y":-16.6},{"x":74,"y":-16.6},{"x":75,"y":-16.6},{"x":78,"y":-16.6},{"x":79,"y":-16.6},{"x":83,"y":-16.6},{"x":84,"y":-16.6},{"x":85,"y":-16.6},{"x":89,"y":-16.6},{"x":90,"y":-16.6},{"x":93,"y":-16.6},{"x":94,"y":-16.6},{"x":98,"y":-16.6},{"x":99,"y":-16.6},{"x":102,"y":-16.6},{"x":107,"y":-16.6},{"x":108,"y":-16.6},{"x":111,"y":-16.6},{"x":115,"y":-16.6},{"x":117,"y":-16.6},
{"x":0,"y":-17.2},{"x":3,"y":-17.2},{"x":4,"y":-17.2},{"x":7,"y":-17.2},{"x":8,"y":-17.2},{"x":13,"y":-17.2},{"x":14,"y":-17.2},{"x":18,"y":-17.2},{"x":19,"y":-17.2},{"x":24,"y":-17.2},{"x":25,"y":-17.2},{"x":26,"y":-17.2},{"x":29,"y":-17.2},{"x":30,"y":-17.2},{"x":33,"y":-17.2},{"x":34,"y":-17.2},{"x":37,"y":-17.2},{"x":38,"y":-17.2},{"x":42,"y":-17.2},{"x":43,"y":-17.2},{"x":44,"y":-17.2},{"x":47,"y":-17.2},{"x":48,"y":-17.2},{"x":52,"y":-17.2},{"x":55,"y":-17.2},{"x":56,"y":-17.2},{"x":59,"y":-17.2},{"x":62,"y":-17.2},{"x":63,"y":-17.2},{"x":66,"y":-17.2},{"x":67,"y":-17.2},{"x":71,"y":-17.2},{"x":72,"y":-17.2},{"x":76,"y":-17.2},{"x":77,"y":-17.2},{"x":80,"y":-17.2},{"x":81,"y":-17.2},{"x":82,"y":-17.2},{"x":86,"y":-17.2},{"x":87,"y":-17.2},{"x":91,"y":-17.2},{"x":95,"y":-17.2},{"x":96,"y":-17.2},{"x":100,"y":-17.2},{"x":101,"y":-17.2},{"x":104,"y":-17.2},{"x":105,"y":-17.2},{"x":109,"y":-17.2},{"x":110,"y":-17.2},{"x":113,"y":-17.2},{"x":114,"y":-17.2},{"x":118,"y":-17.2},
{"x":1,"y":-17.9},{"x":2,"y":-17.9},{"x":5,"y":-17.9},{"x":6,"y":-17.9},{"x":9,"y":-17.9},{"x":10,"y":-17.9},{"x":11,"y":-17.9},{"x":16,"y":-17.9},{"x":17,"y":-17.9},{"x":20,"y":-17.9},{"x":21,"y":-17.9},{"x":22,"y":-17.9},{"x":27,"y":-17.9},{"x":28,"y":-17.9},{"x":31,"y":-17.9},{"x":32,"y":-17.9},{"x":35,"y":-17.9},{"x":36,"y":-17.9},{"x":39,"y":-17.9},{"x":40,"y":-17.9},{"x":45,"y":-17.9},{"x":46,"y":-17.9},{"x":49,"y":-17.9},{"x":50,"y":-17.9},{"x":51,"y":-17.9},{"x":54,"y":-17.9},{"x":57,"y":-17.9},{"x":58,"y":-17.9},{"x":60,"y":-17.9},{"x":61,"y":-17.9},{"x":65,"y":-17.9},{"x":68,"y":-17.9},{"x":69,"y":-17.9},{"x":73,"y":-17.9},{"x":74,"y":-17.9},{"x":78,"y":-17.9},{"x":79,"y":-17.9},{"x":83,"y":-17.9},{"x":84,"y":-17.9},{"x":88,"y":-17.9},{"x":89,"y":-17.9},{"x":92,"y":-17.9},{"x":93,"y":-17.9},{"x":97,"y":-17.9},{"x":98,"y":-17.9},{"x":102,"y":-17.9},{"x":103,"y":-17.9},{"x":106,"y":-17.9},{"x":107,"y":-17.9},{"x":111,"y":-17.9},{"x":112,"y":-17.9},{"x":116,"y":-17.9},
{"x":0,"y":-18.5},{"x":3,"y":-18.5},{"x":4,"y":-18.5},{"x":7,"y":-18.5},{"x":8,"y":-18.5},{"x":12,"y":-18.5},{"x":13,"y":-18.5},{"x":14,"y":-18.5},{"x":17,"y":-18.5},{"x":18,"y":-18.5},{"x":22,"y":-18.5},{"x":23,"y":-18.5},{"x":25,"y":-18.5},{"x":26,"y":-18.5},{"x":30,"y":-18.5},{"x":33,"y":-18.5},{"x":34,"y":-18.5},{"x":37,"y":-18.5},{"x":38,"y":-18.5},{"x":41,"y":-18.5},{"x":42,"y":-18.5},{"x":43,"y":-18.5},{"x":47,"y":-18.5},{"x":48,"y":-18.5},{"x":52,"y":-18.5},{"x":53,"y":-18.5},{"x":55,"y":-18.5},{"x":56,"y":-18.5},{"x":59,"y":-18.5},{"x":62,"y":-18.5},{"x":63,"y":-18.5},{"x":66,"y":-18.5},{"x":67,"y":-18.5},{"x":70,"y":-18.5},{"x":71,"y":-18.5},{"x":72,"y":-18.5},{"x":76,"y":-18.5},{"x":80,"y":-18.5},{"x":81,"y":-18.5},{"x":85,"y":-18.5},{"x":86,"y":-18.5},{"x":90,"y":-18.5},{"x":91,"y":-18.5},{"x":94,"y":-18.5},{"x":95,"y":-18.5},{"x":96,"y":-18.5},{"x":99,"y":-18.5},{"x":100,"y":-18.5},{"x":104,"y":-18.5},{"x":105,"y":-18.5},{"x":108,"y":-18.5},{"x":109,"y":-18.5},{"x":113,"y":-18.5},{"x":114,"y":-18.5},{"x":117,"y":-18.5},
{"x":1,"y":-19.2},{"x":2,"y":-19.2},{"x":5,"y":-19.2},{"x":6,"y":-19.2},{"x":9,"y":-19.2},{"x":10,"y":-19.2},{"x":15,"y":-19.2},{"x":16,"y":-19.2},{"x":19,"y":-19.2},{"x":20,"y":-19.2},{"x":21,"y":-19.2},{"x":24,"y":-19.2},{"x":27,"y":-19.2},{"x":28,"y":-19.2},{"x":29,"y":-19.2},{"x":32,"y":-19.2},{"x":35,"y":-19.2},{"x":36,"y":-19.2},{"x":39,"y":-19.2},{"x":40,"y":-19.2},{"x":44,"y":-19.2},{"x":45,"y":-19.2},{"x":46,"y":-19.2},{"x":50,"y":-19.2},{"x":51,"y":-19.2},{"x":54,"y":-19.2},{"x":57,"y":-19.2},{"x":58,"y":-19.2},{"x":61,"y":-19.2},{"x":64,"y":-19.2},{"x":65,"y":-19.2},{"x":68,"y":-19.2},{"x":69,"y":-19.2},{"x":73,"y":-19.2},{"x":74,"y":-19.2},{"x":75,"y":-19.2},{"x":78,"y":-19.2},{"x":82,"y":-19.2},{"x":83,"y":-19.2},{"x":87,"y":-19.2},{"x":88,"y":-19.2},{"x":92,"y":-19.2},{"x":93,"y":-19.2},{"x":97,"y":-19.2},{"x":98,"y":-19.2},{"x":101,"y":-19.2},{"x":102,"y":-19.2},{"x":106,"y":-19.2},{"x":110,"y":-19.2},{"x":111,"y":-19.2},{"x":115,"y":-19.2},{"x":116,"y":-19.2},
{"x":0,"y":-19.8},{"x":3,"y":-19.8},{"x":4,"y":-19.8},{"x":7,"y":-19.8},{"x":8,"y":-19.8},{"x":11,"y":-19.8},{"x":12,"y":-19.8},{"x":13,"y":-19.8},{"x":17,"y":-19.8},{"x":18,"y":-19.8},{"x":23,"y":-19.8},{"x":24,"y":-19.8},{"x":26,"y":-19.8},{"x":27,"y":-19.8},{"x":30,"y":-19.8},{"x":31,"y":-19.8},{"x":33,"y":-19.8},{"x":34,"y":-19.8},{"x":37,"y":-19.8},{"x":38,"y":-19.8},{"x":42,"y":-19.8},{"x":43,"y":-19.8},{"x":47,"y":-19.8},{"x":48,"y":-19.8},{"x":49,"y":-19.8},{"x":52,"y":-19.8},{"x":55,"y":-19.8},{"x":56,"y":-19.8},{"x":59,"y":-19.8},{"x":60,"y":-19.8},{"x":61,"y":-19.8},{"x":63,"y":-19.8},{"x":64,"y":-19.8},{"x":67,"y":-19.8},{"x":70,"y":-19.8},{"x":71,"y":-19.8},{"x":72,"y":-19.8},{"x":76,"y":-19.8},{"x":77,"y":-19.8},{"x":80,"y":-19.8},{"x":81,"y":-19.8},{"x":85,"y":-19.8},{"x":86,"y":-19.8},{"x":89,"y":-19.8},{"x":90,"y":-19.8},{"x":91,"y":-19.8},{"x":95,"y":-19.8},{"x":96,"y":-19.8},{"x":99,"y":-19.8},{"x":100,"y":-19.8},{"x":104,"y":-19.8},{"x":105,"y":-19.8},{"x":108,"y":-19.8},{"x":112,"y":-19.8},{"x":113,"y":-19.8},{"x":116,"y":-19.8},{"x":117,"y":-19.8}
],
"on":[
{"x":0.3,"y":-19.1},{"x":0.7,"y":-17.4},{"x":0.1,"y":-15.9},{"x":0.5,"y":-13.2},{"x":0.9,"y":-11.8},{"x":0.2,"y":-9.6},{"x":0.6,"y":-8.1},{"x":0.4,"y":-6.4},
{"x":1.8,"y":-19.8},{"x":1,"y":-16.8},{"x":1.5,"y":-14.1},{"x":1.2,"y":-12.9},{"x":1.9,"y":-10.4},{"x":1.1,"y":-8.8},{"x":1.7,"y":-7.3},{"x":1.4,"y":-5.2},
{"x":2,"y":-18.4},{"x":2.6,"y":-17.9},{"x":2.3,"y":-15.2},{"x":2.8,"y":-12.1},{"x":2.3,"y":-11},{"x":2.7,"y":-9.2},{"x":2.1,"y":-6.6},{"x":2.5,"y":-5.9},{"x":2.9,"y":-4.5},
{"x":3.2,"y":-19.4},{"x":3.6,"y":-16.1},{"x":3.4,"y":-14.7},{"x":3.8,"y":-13.5},{"x":3,"y":-10.1},{"x":3.5,"y":-7.7},{"x":3.2,"y":-6.9},{"x":3.9,"y":-4.8},
{"x":1.1,"y":-17.2},{"x":2.7,"y":-15.6},{"x":3.4,"y":-12.6},{"x":8,"y":-11.4},{"x":0.6,"y":-9.9},{"x":4.3,"y":-8.4},{"x":7.8,"y":-5.5},{"x":6.3,"y":-4},
{"x":3.7,"y":-18.9},{"x":4.1,"y":-16.4},{"x":9.5,"y":-13.8},{"x":1.9,"y":-11.9},{"x":5.2,"y":-10.7},{"x":8.6,"y":-7.2},{"x":3.4,"y":-6.3},{"x":6.8,"y":-4.9},{"x":8,"y":-3.6},
{"x":5.5,"y":-17.7},{"x":2.2,"y":-14.4},{"x":2.9,"y":-13.1},{"x":6.1,"y":-9.4},{"x":9.7,"y":-8},{"x":4.4,"y":-7},{"x":7,"y":-5.3},{"x":9.6,"y":-3.9},
{"x":3.3,"y":-16.6},{"x":3.8,"y":-15.1},{"x":7.3,"y":-12.3},{"x":10.7,"y":-10.9},{"x":5.1,"y":-8.7},{"x":8.5,"y":-6.1},{"x":10.9,"y":-4.6},{"x":9.2,"y":-3.2},
{"x":4.6,"y":-15.8},{"x":8.4,"y":-13.9},{"x":11.8,"y":-11.6},{"x":6,"y":-10.2},{"x":9.5,"y":-9},{"x":5.2,"y":-7.5},{"x":10.9,"y":-5.8},{"x":9.1,"y":-4.3},{"x":12.7,"y":-2.7},
{"x":9.4,"y":-16},{"x":6,"y":-13},{"x":7.6,"y":-12},{"x":10.3,"y":-9.7},{"x":6.8,"y":-7.9},{"x":11.3,"y":-6.6},{"x":8.7,"y":-5},{"x":13.1,"y":-3.5},{"x":13.5,"y":-2.4},
{"x":7.9,"y":-14.6},{"x":8.2,"y":-12.8},{"x":11.6,"y":-10.6},{"x":7.4,"y":-9.3},{"x":12.8,"y":-8.2},{"x":9,"y":-6},{"x":14.5,"y":-4.4},{"x":14.2,"y":-3},{"x":10.9,"y":-1.9},
{"x":9.1,"y":-14.2},{"x":10.7,"y":-11.3},{"x":8.4,"y":-10},{"x":13,"y":-8.5},{"x":10.6,"y":-7.1},{"x":15.3,"y":-5.6},{"x":7.8,"y":-3.8},{"x":11.3,"y":-2.6},{"x":14.7,"y":-1.6},
{"x":11.1,"y":-13.4},{"x":9.5,"y":-12.2},{"x":14.9,"y":-9.6},{"x":11.2,"y":-7.8},{"x":16.6,"y":-6.4},{"x":8.4,"y":-5.1},{"x":12.8,"y":-4},{"x":15,"y":-2.1},{"x":14.5,"y":-1.3},
{"x":10.2,"y":-12.6},{"x":11.9,"y":-10.8},{"x":12.1,"y":-9.1},{"x":17.7,"y":-8.3},{"x":9.4,"y":-5.9},{"x":13,"y":-4.7},{"x":16.6,"y":-3.3},{"x":15.3,"y":-2.4},{"x":14.8,"y":-1},
{"x":12.3,"y":-12.1},{"x":13.7,"y":-11},{"x":18.1,"y":-8.6},{"x":10.5,"y":-7.4},{"x":14.9,"y":-6.7},{"x":17.2,"y":-4.2},{"x":12.6,"y":-2.9},{"x":15.4,"y":-1.7},{"x":17.8,"y":-0.8},
{"x":14,"y":-11.5},{"x":11.5,"y":-9.8},{"x":11.2,"y":-8.9},{"x":15.9,"y":-6.9},{"x":18.1,"y":-5.4},{"x":13.7,"y":-4.5},{"x":16.4,"y":-3.1},{"x":18,"y":-1.4},{"x":17.6,"y":-0.6},
{"x":12.3,"y":-11.8},{"x":12.8,"y":-10.3},{"x":16.3,"y":-7.6},{"x":19.7,"y":-6.2},{"x":14.1,"y":-5},{"x":17.5,"y":-3.7},{"x":13.9,"y":-2.2},{"x":18.2,"y":-1.1},{"x":17.6,"y":-0.4},
{"x":13.4,"y":-10.7},{"x":17.8,"y":-9.2},{"x":20,"y":-8},{"x":15.5,"y":-6.6},{"x":18.2,"y":-4.1},{"x":14.9,"y":-3.4},{"x":19.1,"y":-2.6},{"x":18.7,"y":-0.9},{"x":21.4,"y":-0.2},
{"x":18,"y":-10.4},{"x":15.6,"y":-8.7},{"x":16.3,"y":-7.3},{"x":19.8,"y":-5.7},{"x":15.3,"y":-4.8},{"x":20.7,"y":-2.8},{"x":17.1,"y":-1.9},{"x":22.5,"y":-0.7},{"x":22.9,"y":0},
{"x":16.2,"y":-9.9},{"x":17.6,"y":-9},{"x":20.4,"y":-6.8},{"x":16.8,"y":-5.9},{"x":21,"y":-4.3},{"x":18.5,"y":-3.6},{"x":23.2,"y":-1.5},{"x":23.9,"y":-0.5},{"x":19.1,"y":0.1},
{"x":18.7,"y":-10.1},{"x":19.4,"y":-8.2},{"x":17,"y":-7},{"x":22.6,"y":-5.2},{"x":19.3,"y":-3.9},{"x":24.8,"y":-2.5},{"x":16.3,"y":-1.2},{"x":20.7,"y":-0.3},{"x":23.1,"y":0.3},
{"x":20.5,"y":-9.4},{"x":18.9,"y":-7.9},{"x":23.2,"y":-6.1},{"x":20.6,"y":-4.6},{"x":25.4,"y":-3.3},{"x":17.8,"y":-2},{"x":21,"y":-1.6},{"x":24.5,"y":0},{"x":23.2,"y":0.4},
{"x":19.9,"y":-9.2},{"x":20.1,"y":-8.4},{"x":21.7,"y":-6.5},{"x":26.4,"y":-5.5},{"x":18,"y":-2.9},{"x":22.6,"y":-2.2},{"x":25.3,"y":-0.8},{"x":24.8,"y":0.2},{"x":23.3,"y":0.5},
{"x":21.7,"y":-8.7},{"x":22.1,"y":-7.1},{"x":27.5,"y":-5.8},{"x":19.9,"y":-4.4},{"x":23.2,"y":-3.7},{"x":26.6,"y":-1.7},{"x":21.4,"y":-0.6},{"x":24.8,"y":0.3},{"x":26,"y":0.6},
{"x":23.5,"y":-8.5},{"x":20.2,"y":-6.6},{"x":20.9,"y":-5.3},{"x":24.1,"y":-3.5},{"x":27.7,"y":-2.6},{"x":22.4,"y":-1.3},{"x":25,"y":-0.1},{"x":27.6,"y":0.5},{"x":26.3,"y":0.8},
{"x":21.8,"y":-7.9},{"x":21.3,"y":-7.3},{"x":25.7,"y":-4.9},{"x":28.1,"y":-4.1},{"x":23.5,"y":-2.3},{"x":26.9,"y":-1.8},{"x":22.2,"y":-0.4},{"x":27.6,"y":0.6},{"x":26.4,"y":0.9},
{"x":22.8,"y":-8.1},{"x":26,"y":-6},{"x":29.5,"y":-5.1},{"x":24.2,"y":-3.2},{"x":27.9,"y":-2.7},{"x":23.1,"y":-1},{"x":28.7,"y":0.1},{"x":27.4,"y":0.7},{"x":30,"y":1},
{"x":27.6,"y":-7.5},{"x":24.3,"y":-6.4},{"x":25.8,"y":-4.7},{"x":28.3,"y":-3.8},{"x":24.7,"y":-1.9},{"x":29.1,"y":-0.7},{"x":26.5,"y":0.4},{"x":31.9,"y":0.9},{"x":31.2,"y":1.1},
{"x":25.6,"y":-7.2},{"x":26.4,"y":-5.7},{"x":29.8,"y":-4.3},{"x":25,"y":-2.9},{"x":30.5,"y":-1.5},{"x":27.2,"y":-1.1},{"x":32.9,"y":0.2},{"x":32.1,"y":0.8},{"x":28.7,"y":1.2},
{"x":27.4,"y":-7},{"x":28,"y":-5.9},{"x":26.6,"y":-3.6},{"x":31.3,"y":-2.4},{"x":28.8,"y":-2},{"x":33.3,"y":-0.5},{"x":25.7,"y":0.6},{"x":29.1,"y":1},{"x":32.5,"y":1.3},
{"x":29.9,"y":-6.8},{"x":27.2,"y":-5.2},{"x":32.6,"y":-4.5},{"x":29.4,"y":-3.1},{"x":34.8,"y":-1.2},{"x":26,"y":-0.2},{"x":30.5,"y":0.5},{"x":33.2,"y":1.1},{"x":32.9,"y":1.4},
{"x":28.1,"y":-7.1},{"x":29.7,"y":-5.5},{"x":30.4,"y":-3.9},{"x":35,"y":-2.6},{"x":27.6,"y":-1.7},{"x":31.3,"y":0.1},{"x":34.8,"y":0.8},{"x":33.3,"y":1.2},{"x":32.7,"y":1.5},
{"x":30.1,"y":-6.4},{"x":31.5,"y":-4.8},{"x":36.9,"y":-4.2},{"x":28.2,"y":-2.1},{"x":32.6,"y":-0.9},{"x":35.4,"y":-0.3},{"x":30.8,"y":0.7},{"x":33,"y":1.3},{"x":35.5,"y":1.5},
{"x":32.2,"y":-6.2},{"x":29.9,"y":-5},{"x":29.1,"y":-3.3},{"x":33.7,"y":-2.8},{"x":36.4,"y":-1.4},{"x":31,"y":0.3},{"x":34.6,"y":0.9},{"x":36.3,"y":1.4},{"x":35.8,"y":1.6},
{"x":30.3,"y":-6.6},{"x":30.7,"y":-4.4},{"x":34.1,"y":-3.5},{"x":37.5,"y":-1.8},{"x":32.9,"y":-0.6},{"x":35.2,"y":0},{"x":31.6,"y":1},{"x":36.4,"y":1.2},{"x":35.8,"y":1.7},
{"x":31,"y":-5.9},{"x":35.5,"y":-4.9},{"x":38.2,"y":-2.9},{"x":33.9,"y":-2.3},{"x":36.1,"y":-1.1},{"x":32.7,"y":0.4},{"x":37.4,"y":0.9},{"x":36,"y":1.5},{"x":39.6,"y":1.8},
{"x":36.3,"y":-5.6},{"x":33.8,"y":-4.1},{"x":34.3,"y":-3.7},{"x":37.7,"y":-1.6},{"x":33.1,"y":-0.4},{"x":38.5,"y":0.6},{"x":35.9,"y":1.1},{"x":40.2,"y":1.6},{"x":40.6,"y":1.8},
{"x":34.4,"y":-6},{"x":35.8,"y":-4.6},{"x":38,"y":-3},{"x":34.5,"y":-2},{"x":39.2,"y":-0.8},{"x":36.9,"y":0.2},{"x":41.1,"y":1.3},{"x":41.7,"y":1.4},{"x":37.4,"y":1.9},
{"x":36,"y":-5.4},{"x":37.6,"y":-3.8},{"x":35.3,"y":-2.5},{"x":40.8,"y":-1.3},{"x":37.3,"y":-0.1},{"x":42.7,"y":0.8},{"x":34.1,"y":1.2},{"x":38.5,"y":1.7},{"x":41.9,"y":2},
{"x":38.2,"y":-5.7},{"x":36.6,"y":-4.3},{"x":41.4,"y":-3.2},{"x":38.8,"y":-1.9},{"x":43,"y":-0.5},{"x":35.5,"y":0.5},{"x":39.2,"y":1.4},{"x":42.9,"y":1.8},{"x":41.1,"y":2},
{"x":37.7,"y":-5.1},{"x":38.4,"y":-3.6},{"x":39,"y":-2.7},{"x":44.6,"y":-1},{"x":36.3,"y":-0.2},{"x":40.8,"y":0.7},{"x":43.3,"y":1.5},{"x":42.7,"y":1.6},{"x":41.1,"y":2.1},
{"x":39.5,"y":-5.5},{"x":40.9,"y":-4},{"x":45.2,"y":-2.2},{"x":37.6,"y":-1.5},{"x":41.4,"y":0.1},{"x":44.8,"y":0.9},{"x":39,"y":1.3},{"x":42.5,"y":1.9},{"x":44.2,"y":2.1},
{"x":41.9,"y":-4.9},{"x":38.1,"y":-3.4},{"x":38.7,"y":-2.9},{"x":42.4,"y":-0.7},{"x":45,"y":-0.3},{"x":40.6,"y":1},{"x":43.3,"y":1.6},{"x":45.8,"y":1.8},{"x":44.3,"y":2.1},
{"x":39.7,"y":-5.2},{"x":39.1,"y":-3.1},{"x":43.5,"y":-2.4},{"x":46.9,"y":-1.2},{"x":41.2,"y":0.3},{"x":44.6,"y":0.8},{"x":40.4,"y":1.7},{"x":45.8,"y":2},{"x":44,"y":2.2},
{"x":40.5,"y":-4.7},{"x":44.2,"y":-3.9},{"x":47.9,"y":-1.8},{"x":42.1,"y":-0.9},{"x":45.7,"y":0},{"x":41.4,"y":1.1},{"x":46,"y":1.4},{"x":45.6,"y":1.9},{"x":48.3,"y":2.2},
{"x":45.8,"y":-4.5},{"x":42.3,"y":-3.3},{"x":43.7,"y":-2.6},{"x":46.1,"y":-1.4},{"x":42.5,"y":0.4},{"x":47.9,"y":1.2},{"x":44.2,"y":1.8},{"x":49.6,"y":2},{"x":49.4,"y":2.2},
{"x":43.8,"y":-4.8},{"x":44,"y":-2.8},{"x":47.5,"y":-2},{"x":43.2,"y":-0.6},{"x":48.9,"y":0.2},{"x":45.1,"y":0.9},{"x":50.7,"y":1.5},{"x":50.4,"y":2.1},{"x":46,"y":2.3},
{"x":45.6,"y":-4.3},{"x":46.3,"y":-3.5},{"x":44.8,"y":-1.6},{"x":49.3,"y":-1.1},{"x":46.7,"y":0.5},{"x":51.1,"y":1.3},{"x":43.5,"y":1.7},{"x":47.9,"y":1.9},{"x":50.2,"y":2.2},
{"x":47.6,"y":-4.6},{"x":45.4,"y":-3},{"x":50.8,"y":-2.3},{"x":47,"y":-0.4},{"x":52.5,"y":0.1},{"x":44.2,"y":1},{"x":48.9,"y":1.6},{"x":51.1,"y":2},{"x":50.7,"y":2.3},
{"x":46.4,"y":-4.1},{"x":47,"y":-2.7},{"x":48.6,"y":-1.9},{"x":53.3,"y":-0.8},{"x":45.8,"y":0.6},{"x":49.3,"y":1.2},{"x":52.7,"y":1.8},{"x":51.1,"y":2.2},
{"x":48.5,"y":-4.4},{"x":49.9,"y":-3.2},{"x":54.2,"y":-1.4},{"x":46.6,"y":-0.5},{"x":50.4,"y":0.3},{"x":53.8,"y":1.4},{"x":48,"y":1.7},{"x":51.5,"y":2.1},{"x":47.2,"y":2.3},
{"x":50.9,"y":-3.9},{"x":47.1,"y":-2.5},{"x":47.7,"y":-1.7},{"x":51.4,"y":-0.2},{"x":54,"y":0.7},{"x":49.6,"y":1.1},{"x":52.3,"y":1.9},{"x":48.8,"y":2.3},
{"x":48.3,"y":-4.2},{"x":48.7,"y":-2.9},{"x":52.1,"y":-1.2},{"x":55.5,"y":-0.9},{"x":50.9,"y":0.4},{"x":53.2,"y":1.5},{"x":49.6,"y":1.6},{"x":54.4,"y":2},{"x":51.8,"y":2.2},
{"x":49,"y":-3.7},{"x":53.5,"y":-2.3},{"x":56.2,"y":-1.5},{"x":51.9,"y":0},{"x":54.1,"y":0.8},{"x":50.7,"y":1.3},{"x":55.4,"y":1.8},{"x":52,"y":2.3},
{"x":54.6,"y":-4},{"x":51.3,"y":-2.6},{"x":52.8,"y":-0.9},{"x":55.3,"y":-0.3},{"x":51.7,"y":0.5},{"x":56.1,"y":1.2},{"x":53.5,"y":1.9},{"x":58.9,"y":2.1},{"x":50.2,"y":2.3},
{"x":52.6,"y":-3.5},{"x":53.4,"y":-2.8},{"x":56.8,"y":-1.3},{"x":52,"y":0.1},{"x":57.5,"y":0.9},{"x":54.2,"y":1.6},{"x":59.9,"y":1.7},{"x":51.1,"y":2.2},
{"x":54.7,"y":-3.8},{"x":55.4,"y":-2.1},{"x":53,"y":-1},{"x":58.6,"y":-0.6},{"x":55.3,"y":0.6},{"x":60.8,"y":1.4},{"x":52.3,"y":2},{"x":56.7,"y":2.3},
{"x":56.1,"y":-3.3},{"x":54.5,"y":-2.4},{"x":59.9,"y":-1.8},{"x":56.2,"y":0.2},{"x":61.6,"y":0.7},{"x":53.4,"y":1.1},{"x":57.8,"y":1.8},{"x":60,"y":2.2},
{"x":55.5,"y":-3.6},{"x":56.2,"y":-1.9},{"x":57.9,"y":-0.7},{"x":62.1,"y":-0.1},{"x":54.7,"y":1},{"x":58.4,"y":1.5},{"x":61,"y":2.1},{"x":56.6,"y":2.3},
{"x":57.3,"y":-3.2},{"x":58.8,"y":-2.2},{"x":63.3,"y":-1.1},{"x":55.7,"y":0.3},{"x":59.1,"y":0.8},{"x":62.5,"y":1.7},{"x":57.9,"y":1.9},{"x":60.2,"y":2.2},
{"x":59.6,"y":-3.4},{"x":56.4,"y":-1.6},{"x":56.8,"y":-0.5},{"x":60,"y":0},{"x":63.5,"y":1.2},{"x":58.2,"y":1.4},{"x":61.9,"y":2},{"x":57.1,"y":2.3},
{"x":57.7,"y":-2.9},{"x":57.4,"y":-2},{"x":61,"y":-0.9},{"x":64.6,"y":0.4},{"x":59.3,"y":0.9},{"x":62.8,"y":1.6},{"x":58.3,"y":2.2},
{"x":58.7,"y":-3.1},{"x":62.1,"y":-1.4},{"x":65.5,"y":-0.3},{"x":60.9,"y":0.6},{"x":63.2,"y":1.1},{"x":59.6,"y":1.8},{"x":64.4,"y":2.1},
{"x":63.8,"y":-2.7},{"x":60,"y":-1.8},{"x":61.5,"y":-0.6},{"x":64.2,"y":0.2},{"x":60.9,"y":1.3},{"x":65.1,"y":1.5},{"x":62.7,"y":2.3},
{"x":61.4,"y":-3},{"x":62,"y":-1.2},{"x":65.6,"y":-0.8},{"x":61.3,"y":0.5},{"x":66.8,"y":1},{"x":63.3,"y":1.9},{"x":68.7,"y":2.2},
{"x":63.1,"y":-2.5},{"x":64.5,"y":-1.5},{"x":62.9,"y":-0.2},{"x":67.2,"y":0.7},{"x":64.6,"y":1.4},{"x":69.4,"y":1.7},{"x":61.8,"y":2.1},
{"x":65,"y":-2.8},{"x":63.5,"y":-1},{"x":68.2,"y":-0.4},{"x":65.9,"y":0.3},{"x":70.1,"y":1.2},{"x":62.7,"y":2},{"x":66.4,"y":2.3},
{"x":64,"y":-2.3},{"x":65.6,"y":-1.7},{"x":66.3,"y":0},{"x":71.8,"y":0.8},{"x":63.3,"y":1.5},{"x":67.7,"y":1.8},{"x":70.1,"y":2.2},
{"x":66.5,"y":-2.6},{"x":67.9,"y":-1.3},{"x":72.2,"y":-0.7},{"x":64.6,"y":0.4},{"x":68.4,"y":1.1},{"x":71.8,"y":1.6},{"x":66,"y":2.1},
{"x":68.5,"y":-2.1},{"x":65.2,"y":-0.9},{"x":65.9,"y":0.1},{"x":69.1,"y":0.6},{"x":72.7,"y":1.3},{"x":67.4,"y":2},{"x":70,"y":2.3},
{"x":66.6,"y":-2.4},{"x":66.3,"y":-1.6},{"x":70.8,"y":-0.5},{"x":73.3,"y":0.9},{"x":68.7,"y":1},{"x":71.1,"y":1.7},{"x":67.5,"y":2.2},
{"x":67.9,"y":-2},{"x":71.2,"y":-1.1},{"x":74.6,"y":-0.1},{"x":69.4,"y":0.5},{"x":72.8,"y":1.4},{"x":68,"y":1.9},{"x":73.5,"y":2.1},
{"x":72.2,"y":-2.2},{"x":69.9,"y":-0.8},{"x":70.1,"y":0.3},{"x":73.7,"y":0.7},{"x":69.4,"y":1.2},{"x":74,"y":1.6},{"x":71.6,"y":2.3},
{"x":70.3,"y":-1.9},{"x":71.8,"y":-1.4},{"x":74.3,"y":-0.3},{"x":70.7,"y":0.2},{"x":75.1,"y":1.5},{"x":72.5,"y":1.8},{"x":77.9,"y":2.2},
{"x":72.2,"y":-2.1},{"x":73.6,"y":-0.6},{"x":71.4,"y":0},{"x":76.8,"y":0.8},{"x":73,"y":1.1},{"x":78.5,"y":2},{"x":70.2,"y":2.1},
{"x":74.9,"y":-1.7},{"x":72.1,"y":-1.2},{"x":77.7,"y":0.4},{"x":74.4,"y":0.6},{"x":79,"y":1.3},{"x":71.6,"y":1.7},{"x":75.3,"y":2.3},
{"x":73.8,"y":-2},{"x":74.3,"y":-0.9},{"x":75.7,"y":-0.2},{"x":80.1,"y":1},{"x":72.5,"y":1.4},{"x":76.9,"y":1.9},{"x":79.2,"y":2.2},
{"x":75.6,"y":-1.6},{"x":76.4,"y":-0.5},{"x":81.8,"y":0.2},{"x":73,"y":0.7},{"x":77.5,"y":1.6},{"x":80.2,"y":1.8},{"x":75.9,"y":2.1},
{"x":77.1,"y":-1.8},{"x":74.7,"y":-1},{"x":74.4,"y":0.1},{"x":78,"y":0.9},{"x":81.6,"y":1.2},{"x":76.3,"y":2},{"x":79.8,"y":2.3},
{"x":75.3,"y":-1.5},{"x":75.7,"y":-0.7},{"x":79.1,"y":-0.1},{"x":82.5,"y":0.5},{"x":77.9,"y":1.5},{"x":80.2,"y":1.7},{"x":76.6,"y":2.2},
{"x":76.4,"y":-1.6},{"x":80.8,"y":-0.3},{"x":83,"y":0.4},{"x":78.5,"y":1.1},{"x":81.2,"y":1.3},{"x":77.9,"y":1.9},{"x":82.1,"y":2.1},
{"x":81.7,"y":-1.3},{"x":84.4,"y":-0.8},{"x":79,"y":0},{"x":82.6,"y":0.8},{"x":78.3,"y":1.6},{"x":83.8,"y":2.2},
{"x":79.3,"y":-1.5},{"x":80.7,"y":-0.4},{"x":83.1,"y":0.6},{"x":79.5,"y":1},{"x":84.9,"y":1.4},{"x":81.2,"y":1.8},{"x":86.6,"y":2.3},
{"x":81.4,"y":-1.2},{"x":84.8,"y":-0.6},{"x":80,"y":0.2},{"x":85.5,"y":0.9},{"x":82.2,"y":1.7},{"x":87.9,"y":2.1},
{"x":83.1,"y":-1.4},{"x":81.7,"y":-0.1},{"x":86.4,"y":0.5},{"x":83,"y":1.2},{"x":88.6,"y":1.5},{"x":80.3,"y":2},{"x":84.8,"y":2.2},
{"x":82.3,"y":-1.1},{"x":87.7,"y":-0.5},{"x":84.1,"y":0.3},{"x":89.5,"y":0.7},{"x":81.9,"y":1.8},{"x":85.2,"y":2.3},
{"x":84.6,"y":-1.3},{"x":85.4,"y":-0.2},{"x":90.8,"y":0.6},{"x":82,"y":1.1},{"x":86.5,"y":1.4},{"x":89.2,"y":1.9},{"x":84.9,"y":2.1},
{"x":86.1,"y":-1},{"x":91.7,"y":-0.7},{"x":83.4,"y":0.1},{"x":87,"y":1},{"x":90.6,"y":1.6},{"x":85.3,"y":2.2},
{"x":84.8,"y":-1.2},{"x":84.3,"y":0},{"x":88.7,"y":0.4},{"x":91.1,"y":0.8},{"x":86.5,"y":1.3},{"x":89.9,"y":2},{"x":85.2,"y":2.3},
{"x":85.6,"y":-0.9},{"x":89.4,"y":-0.3},{"x":92.8,"y":0.7},{"x":87,"y":1.2},{"x":90.5,"y":1.7},{"x":86.2,"y":2.1},
{"x":90.9,"y":-1.1},{"x":93.1,"y":-0.5},{"x":88.7,"y":0.2},{"x":91.4,"y":1},{"x":87,"y":1.5},{"x":92.6,"y":1.8},{"x":89.3,"y":2.2},
{"x":88.8,"y":-0.9},{"x":89.3,"y":0.1},{"x":92.7,"y":0.5},{"x":88.1,"y":1.3},{"x":93.5,"y":1.9},{"x":90.9,"y":2.3},
{"x":90.2,"y":-1},{"x":93.6,"y":-0.2},{"x":89.4,"y":0.8},{"x":94.8,"y":1.1},{"x":91,"y":1.6},{"x":96.5,"y":2},{"x":88.2,"y":2.2},
{"x":92.9,"y":-0.8},{"x":90.1,"y":-0.4},{"x":95.7,"y":0.3},{"x":92.4,"y":0.9},{"x":97,"y":1.4},{"x":89.6,"y":2.1},
{"x":91.3,"y":-1},{"x":96.8,"y":0.2},{"x":93.3,"y":0.6},{"x":98.7,"y":1.2},{"x":90.1,"y":1.7},{"x":94.5,"y":1.9},{"x":97.9,"y":2.3},
{"x":93.2,"y":-0.7},{"x":94.6,"y":-0.1},{"x":99.4,"y":0.4},{"x":91.8,"y":1},{"x":95,"y":1.5},{"x":98.5,"y":2.2},
{"x":95.2,"y":-0.9},{"x":100.9,"y":0},{"x":92.1,"y":0.9},{"x":96.7,"y":1.3},{"x":99.4,"y":1.8},{"x":94,"y":2.1},
{"x":93.6,"y":-0.8},{"x":93.3,"y":0.3},{"x":97.8,"y":0.5},{"x":100.3,"y":1.1},{"x":95.7,"y":1.6},{"x":98.1,"y":2},{"x":94.5,"y":2.3},
{"x":94.9,"y":-0.6},{"x":98.2,"y":-0.2},{"x":101.6,"y":0.7},{"x":96.4,"y":1.4},{"x":99.8,"y":1.9},{"x":95,"y":2.2},
{"x":99.5,"y":-0.9},{"x":102.2,"y":0.1},{"x":97.9,"y":0.8},{"x":100.1,"y":1},{"x":96.7,"y":1.7},{"x":101.4,"y":2.1},
{"x":97,"y":-0.7},{"x":98.6,"y":0.4},{"x":101.3,"y":0.6},{"x":97.8,"y":1.2},{"x":102.3,"y":1.5},{"x":99.7,"y":2},{"x":104.1,"y":2.2},
{"x":99.5,"y":-0.8},{"x":102.9,"y":-0.1},{"x":98.2,"y":0.9},{"x":103.6,"y":1.3},{"x":100.4,"y":1.8},{"x":105.8,"y":2.1},
{"x":101,"y":-0.6},{"x":99.5,"y":0.2},{"x":104.2,"y":0.5},{"x":101.9,"y":1.1},{"x":106.1,"y":1.6},{"x":98.7,"y":2.2},
{"x":100.4,"y":-0.8},{"x":105,"y":0},{"x":102.6,"y":0.7},{"x":107.3,"y":1.4},{"x":99.8,"y":1.7},{"x":103.3,"y":2},{"x":106.7,"y":2.1},
{"x":102.1,"y":-0.5},{"x":103.5,"y":0.3},{"x":108.9,"y":1},{"x":100.2,"y":1.2},{"x":104.6,"y":1.9},{"x":107.4,"y":2.2},
{"x":104.8,"y":-0.7},{"x":109,"y":-0.2},{"x":101.5,"y":0.6},{"x":105.2,"y":1.5},{"x":108.9,"y":1.6},{"x":103.1,"y":2.1},
{"x":102.7,"y":-0.6},{"x":102.4,"y":0.4},{"x":106,"y":0.8},{"x":109.6,"y":1.1},{"x":104.3,"y":1.8},{"x":107.8,"y":2},{"x":103.3,"y":2.2},
{"x":103.7,"y":-0.8},{"x":107.1,"y":0.1},{"x":110.5,"y":0.9},{"x":105.9,"y":1.3},{"x":108.2,"y":1.7},{"x":104.6,"y":2.1},
{"x":108.4,"y":-0.5},{"x":111.8,"y":0.2},{"x":106,"y":0.6},{"x":109.5,"y":1.4},{"x":105.2,"y":1.9},{"x":110.9,"y":2},
{"x":106.1,"y":-0.7},{"x":107.7,"y":0},{"x":110.4,"y":1},{"x":106,"y":1.2},{"x":111.6,"y":1.6},{"x":108.3,"y":2.2},
{"x":108.8,"y":-0.6},{"x":111.3,"y":0.5},{"x":107.7,"y":0.7},{"x":112.1,"y":1.5},{"x":109.5,"y":1.8},{"x":114.9,"y":2.1},
{"x":110.2,"y":-0.8},{"x":108.6,"y":0.3},{"x":113.4,"y":0.9},{"x":110.8,"y":1.1},{"x":115,"y":1.7},{"x":107.5,"y":2},{"x":111.2,"y":2.2},
{"x":109.9,"y":-0.5},{"x":114.1,"y":0.1},{"x":111.7,"y":0.8},{"x":116.4,"y":1.3},{"x":108,"y":1.9},{"x":112.6,"y":2.1},
{"x":111.3,"y":-0.7},{"x":112.8,"y":0.4},{"x":117.3,"y":0.6},{"x":109.7,"y":1.2},{"x":113.1,"y":1.6},{"x":116.5,"y":2},
{"x":113.9,"y":-0.6},{"x":117.9,"y":0},{"x":110.6,"y":1},{"x":114.4,"y":1.4},{"x":117.8,"y":1.8},{"x":112,"y":2.1},
{"x":111.5,"y":-0.8},{"x":111.2,"y":0.2},{"x":115.9,"y":0.7},{"x":118,"y":1.1},{"x":113.7,"y":1.7},{"x":116.4,"y":2},{"x":112,"y":2.2},
{"x":112.6,"y":-0.5},{"x":116.3,"y":0.5},{"x":113.8,"y":0.9},{"x":114.3,"y":1.5},{"x":117.7,"y":1.9},{"x":113.1,"y":2},
{"x":117.5,"y":-0.7},{"x":114.9,"y":0.1},{"x":115.2,"y":0.8},{"x":116.6,"y":1.3},{"x":114.4,"y":1.6},{"x":115.8,"y":2.1},
{"x":115,"y":-0.6},{"x":116.5,"y":0.3},{"x":117.2,"y":0.6},{"x":115.9,"y":1.2},{"x":116.1,"y":1.8},{"x":117.7,"y":2}
]
},
"layer":[
{"data":{"name":"off"},
 "mark":{"type":"point","shape":"circle","filled":true,"size":28,"opacity":1,"stroke":"#000000","strokeWidth":0.6,"clip":true},
 "encoding":{
  "x":{"field":"x","type":"quantitative","scale":{"domain":[-2.2,118.1],"zero":false,"nice":false},
       "axis":{"orient":"bottom","title":"Evaluation steps","labels":false,"values":[0,20,40,60,80,100],"grid":true,"titlePadding":13,"titleX":329}},
  "y":{"field":"y","type":"quantitative","scale":{"domain":[-20,10],"zero":false,"nice":false},
       "axis":{"title":"Outcomes","values":[-20,-15,-10,-5,0,5,10],"grid":true,"labelPadding":5,"titlePadding":12}},
  "color":{"datum":"Outcomes(adapt.=OFF)","type":"nominal",
    "scale":{"domain":["T=-1","Outcomes(adapt.=OFF)","Outcomes(adapt.=ON)"],"range":["#ff0000","#000070","#008000"]},
    "legend":{"orient":"none","legendX":322,"legendY":9,"title":null,"labelFont":"DejaVu Sans","labelFontSize":21,"labelColor":"#000000","labelLimit":500,"symbolSize":1000,"symbolOffset":12,"padding":9,"labelOffset":29,"rowPadding":8,"strokeColor":"#000000","fillColor":"#ffffff","cornerRadius":0,
      "encoding":{"symbols":{
        "shape":{"value":{"expr":"datum.value === 'T=-1' ? 'M-1,0H1' : datum.value === 'Outcomes(adapt.=OFF)' ? 'M-0.82,0A0.13,0.13,0,1,1,-1.08,0A0.13,0.13,0,1,1,-0.82,0ZM0.13,0A0.13,0.13,0,1,1,-0.13,0A0.13,0.13,0,1,1,0.13,0ZM1.08,0A0.13,0.13,0,1,1,0.82,0A0.13,0.13,0,1,1,1.08,0Z' : 'M-1.11,0H-0.79M-0.95,-0.16V0.16M-0.16,0H0.16M0,-0.16V0.16M0.79,0H1.11M0.95,-0.16V0.16'"}},
        "fill":{"value":{"expr":"datum.value === 'Outcomes(adapt.=OFF)' ? '#000070' : 'transparent'"}},
        "stroke":{"value":{"expr":"datum.value === 'T=-1' ? '#ff0000' : datum.value === 'Outcomes(adapt.=OFF)' ? '#000000' : '#008000'"}},
        "strokeWidth":{"value":{"expr":"datum.value === 'T=-1' ? 3 : datum.value === 'Outcomes(adapt.=OFF)' ? 0.5 : 1.5"}},
        "opacity":{"value":1}
      }}
    }}
 }},
{"data":{"name":"on"},
 "mark":{"type":"point","shape":"M-1,0H1M0,-1V1","filled":false,"size":105,"strokeWidth":1.9,"opacity":1,"clip":true},
 "encoding":{
  "x":{"field":"x","type":"quantitative","axis":{"orient":"top","title":null,"labels":false,"grid":false,"values":[0,20,40,60,80,100]}},
  "y":{"field":"y","type":"quantitative"},
  "color":{"datum":"Outcomes(adapt.=ON)","type":"nominal"}
 }},
{"data":{"values":[{"T":-1}]},
 "mark":{"type":"rule","strokeWidth":2.6,"clip":true},
 "encoding":{
  "y":{"field":"T","type":"quantitative"},
  "color":{"datum":"T=-1","type":"nominal"}
 }}
],
"resolve":{"axis":{"x":"independent"}}
}
